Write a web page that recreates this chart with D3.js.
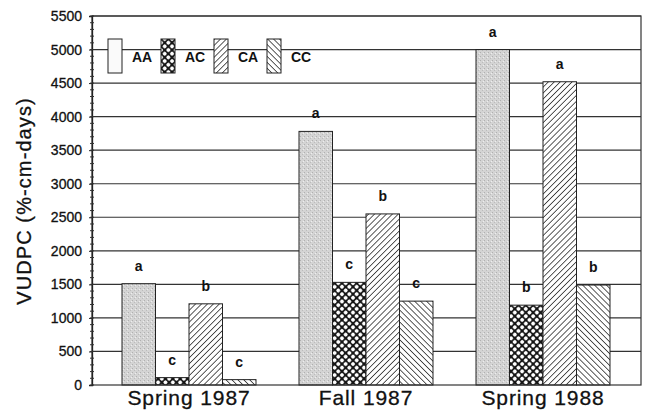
<!DOCTYPE html>
<html>
<head>
<meta charset="utf-8">
<script src="https://cdn.jsdelivr.net/npm/d3@7"></script>
<style>
	body { margin: 0; background: #fff; }
	svg { display: block; font-family: "Liberation Sans", Arial, sans-serif; }
</style>
</head>
<body>
<svg width="648" height="418"></svg>
<script>
var seasons = ["Spring 1987", "Fall 1987", "Spring 1988"];
var treatments = ["AA", "AC", "CA", "CC"];
var aaValues = [1510, 3780, 5000];
var acValues = [110, 1530, 1190];
var caValues = [1210, 2550, 4520];
var ccValues = [80, 1250, 1490];
var aaLetters = ["a", "a", "a"];
var acLetters = ["c", "c", "b"];
var caLetters = ["b", "b", "a"];
var ccLetters = ["c", "c", "b"];
var yTicks = [0, 500, 1000, 1500, 2000, 2500, 3000, 3500, 4000, 4500, 5000, 5500];

var svg = d3.select("svg");
var plotLeft = 92, plotRight = 641, plotTop = 16, plotBottom = 385;

var series = {
	AA: { values: aaValues, letters: aaLetters },
	AC: { values: acValues, letters: acLetters },
	CA: { values: caValues, letters: caLetters },
	CC: { values: ccValues, letters: ccLetters }
};

var rows = [];
seasons.forEach(function(s, i) {
	treatments.forEach(function(t) {
		rows.push({ season: s, key: t, value: series[t].values[i], letter: series[t].letters[i] });
	});
});

var y = d3.scaleLinear().domain([0, 5500]).range([plotBottom, plotTop]);
var x0 = d3.scaleBand().domain(seasons).range([100.5, 631.5]).paddingInner(0.243).paddingOuter(0.1215);
var x1 = d3.scaleBand().domain(treatments).range([0, x0.bandwidth()]);

// fill patterns
var defs = svg.append("defs");

var stip = defs.append("pattern").attr("id", "p-AA")
	.attr("patternUnits", "userSpaceOnUse").attr("width", 4).attr("height", 4);
stip.append("rect").attr("width", 4).attr("height", 4).attr("fill", "#d4d4d4");
stip.append("rect").attr("x", 0).attr("y", 0).attr("width", 1).attr("height", 1).attr("fill", "#b0b0b0");
stip.append("rect").attr("x", 2).attr("y", 2).attr("width", 1).attr("height", 1).attr("fill", "#bcbcbc");
stip.append("rect").attr("x", 3).attr("y", 1).attr("width", 1).attr("height", 1).attr("fill", "#eeeeee");

// white holes in a dark crosshatch
var dots = defs.append("pattern").attr("id", "p-AC")
	.attr("patternUnits", "userSpaceOnUse").attr("width", 5.2).attr("height", 5.2)
	.attr("patternTransform", "rotate(45)");
dots.append("rect").attr("width", 5.2).attr("height", 5.2).attr("fill", "#151515");
dots.append("circle").attr("cx", 2.6).attr("cy", 2.6).attr("r", 1.95).attr("fill", "#fff");

function hatch(id, angle) {
	var p = defs.append("pattern").attr("id", id)
		.attr("patternUnits", "userSpaceOnUse").attr("width", 4.2).attr("height", 4.2)
		.attr("patternTransform", "rotate(" + angle + ")");
	p.append("rect").attr("width", 4.2).attr("height", 4.2).attr("fill", "#fff");
	p.append("line").attr("x1", 0).attr("y1", 0).attr("x2", 0).attr("y2", 4.2)
		.attr("stroke", "#151515").attr("stroke-width", 1.4);
}
hatch("p-CA", 45);
hatch("p-CC", -45);

// gridlines
svg.append("g").selectAll("line")
	.data(yTicks.filter(function(d) { return d > 0; }))
	.enter().append("line")
	.attr("x1", plotLeft).attr("x2", plotRight)
	.attr("y1", function(d) { return y(d); }).attr("y2", function(d) { return y(d); })
	.attr("stroke", "#333").attr("stroke-width", 1.2);

// legend (sits on the plot, gridline runs through it)
var legend = svg.append("g").attr("transform", "translate(108,39)");
var item = legend.selectAll("g").data(treatments).enter().append("g")
	.attr("transform", function(d, i) { return "translate(" + (i * 53) + ",0)"; });
item.append("rect").attr("width", 14).attr("height", 34)
	.attr("fill", function(d) { return d === "AA" ? "#fafafa" : "url(#p-" + d + ")"; })
	.attr("stroke", "#222").attr("stroke-width", 1);
item.append("text").attr("x", 24).attr("y", 23)
	.attr("font-size", 14).attr("font-weight", "bold").attr("fill", "#111")
	.text(function(d) { return d; });

// bars
var bars = svg.append("g");
bars.selectAll("rect").data(rows).enter().append("rect")
	.attr("x", function(d) { return x0(d.season) + x1(d.key); })
	.attr("width", x1.bandwidth())
	.attr("y", function(d) { return y(d.value); })
	.attr("height", function(d) { return y(0) - y(d.value); })
	.attr("fill", function(d) { return "url(#p-" + d.key + ")"; })
	.attr("stroke", "#222").attr("stroke-width", 1);

bars.selectAll("text").data(rows).enter().append("text")
	.attr("x", function(d) { return x0(d.season) + x1(d.key) + x1.bandwidth() / 2; })
	.attr("y", function(d) { return y(d.value) - 13; })
	.attr("text-anchor", "middle")
	.attr("font-size", 14).attr("font-weight", "bold").attr("fill", "#111")
	.text(function(d) { return d.letter; });

// frame
svg.append("rect").attr("x", plotLeft).attr("y", plotTop)
	.attr("width", plotRight - plotLeft).attr("height", plotBottom - plotTop)
	.attr("fill", "none").attr("stroke", "#333").attr("stroke-width", 1.2);

// y axis with minor ticks every 100
var yAxis = d3.axisLeft(y).tickValues(yTicks).tickFormat(d3.format("d")).tickSize(3).tickPadding(7);
var gy = svg.append("g").attr("transform", "translate(" + plotLeft + ",0)").call(yAxis);
gy.select(".domain").attr("stroke", "#222").attr("stroke-width", 1.3);
gy.selectAll(".tick line").attr("stroke", "#222");
gy.selectAll("text").attr("font-size", 14).attr("fill", "#111")
	.attr("stroke", "#111").attr("stroke-width", 0.3)
	.attr("font-family", "'Liberation Sans', Arial, sans-serif");

var minor = d3.range(0, 5501, 100);
svg.append("g").selectAll("line").data(minor).enter().append("line")
	.attr("x1", plotLeft - 2).attr("x2", plotLeft + 2)
	.attr("y1", function(d) { return y(d); }).attr("y2", function(d) { return y(d); })
	.attr("stroke", "#333").attr("stroke-width", 1);

// x axis labels
var xAxis = d3.axisBottom(x0).tickSize(0).tickPadding(5);
var gx = svg.append("g").attr("transform", "translate(0," + plotBottom + ")").call(xAxis);
gx.select(".domain").remove();
gx.selectAll("text").attr("font-size", 21).attr("fill", "#111")
	.attr("stroke", "#111").attr("stroke-width", 0.3)
	.attr("letter-spacing", "0.9px")
	.attr("font-family", "'Liberation Sans', Arial, sans-serif");

// y title
svg.append("text")
	.attr("transform", "translate(31,201) rotate(-90)")
	.attr("text-anchor", "middle")
	.attr("font-size", 20).attr("letter-spacing", "1.1px").attr("fill", "#111")
	.attr("stroke", "#111").attr("stroke-width", 0.3)
	.text("VUDPC (%-cm-days)");
</script>
</body>
</html>
